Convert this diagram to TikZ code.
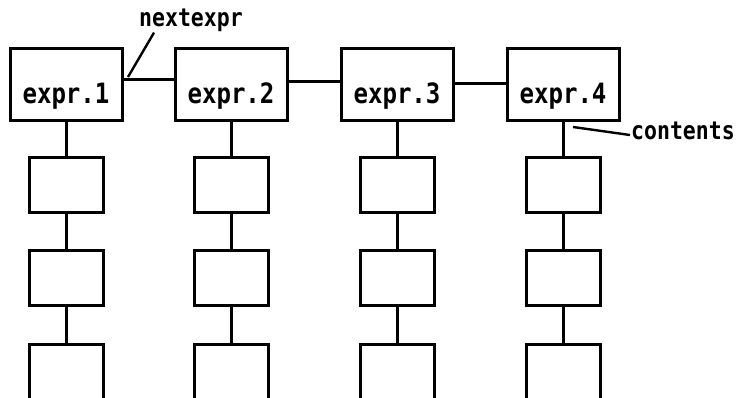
\documentclass[tikz,border=0pt]{standalone}
\usepackage{fontspec}
\newfontfamily\termfont[FakeStretch=0.86]{DejaVu Sans Mono}
\usetikzlibrary{arrows.meta}

\tikzset{
	head/.style={draw, line width=3pt, minimum width=112pt, minimum height=72pt, inner sep=0pt,
		text height=46pt, text depth=8pt, font=\termfont\bfseries\fontsize{28}{28}\selectfont},
	cell/.style={draw, line width=3pt, minimum width=74pt, minimum height=55pt, inner sep=0pt},
	tag/.style={inner sep=1pt, font=\termfont\bfseries\fontsize{25}{25}\selectfont},
	link/.style={line width=3pt},
	pointer/.style={line width=2.4pt}
}

\begin{document}
\begin{tikzpicture}[x=1pt,y=-1pt]
	\useasboundingbox (0,0) rectangle (743,397);
	\clip (0,0) rectangle (743,397);

	\node[head] (e1) at (66,84)  {expr.1};
	\node[head] (e2) at (231,84) {expr.2};
	\node[head] (e3) at (397,84) {expr.3};
	\node[head] (e4) at (563,84) {expr.4};

	\node[cell] (c11) at (66,184.5) {};
	\node[cell] (c12) at (66,277.5) {};
	\node[cell] (c13) at (66,372)   {};

	\node[cell] (c21) at (231,184.5) {};
	\node[cell] (c22) at (231,277.5) {};
	\node[cell] (c23) at (231,372)   {};

	\node[cell] (c31) at (397,184.5) {};
	\node[cell] (c32) at (397,277.5) {};
	\node[cell] (c33) at (397,372)   {};

	\node[cell] (c41) at (563,184.5) {};
	\node[cell] (c42) at (563,277.5) {};
	\node[cell] (c43) at (563,372)   {};

	\node[tag] (nextlbl) at (191,20) {nextexpr};
	\node[tag, anchor=west] (contlbl) at (630,131) {contents};

	% chain of expressions
	\draw[link] ([yshift=5pt]e1.east) -- ([yshift=5pt]e2.west);
	\draw[link] ([yshift=3pt]e2.east) -- ([yshift=3pt]e3.west);
	\draw[link] ([yshift=1pt]e3.east) -- ([yshift=1pt]e4.west);

	% contents lists
	\draw[link] (e1) -- (c11) (c11) -- (c12) (c12) -- (c13);
	\draw[link] (e2) -- (c21) (c21) -- (c22) (c22) -- (c23);
	\draw[link] (e3) -- (c31) (c31) -- (c32) (c32) -- (c33);
	\draw[link] (e4) -- (c41) (c41) -- (c42) (c42) -- (c43);

	% field names
	\coordinate (nxt) at (128,77);
	\coordinate (cnt) at (573,127);
	\draw[pointer] (nxt) -- ([xshift=16pt]nextlbl.south west);
	\draw[pointer] (cnt) -- ([yshift=-4pt]contlbl.west);
\end{tikzpicture}
\end{document}
